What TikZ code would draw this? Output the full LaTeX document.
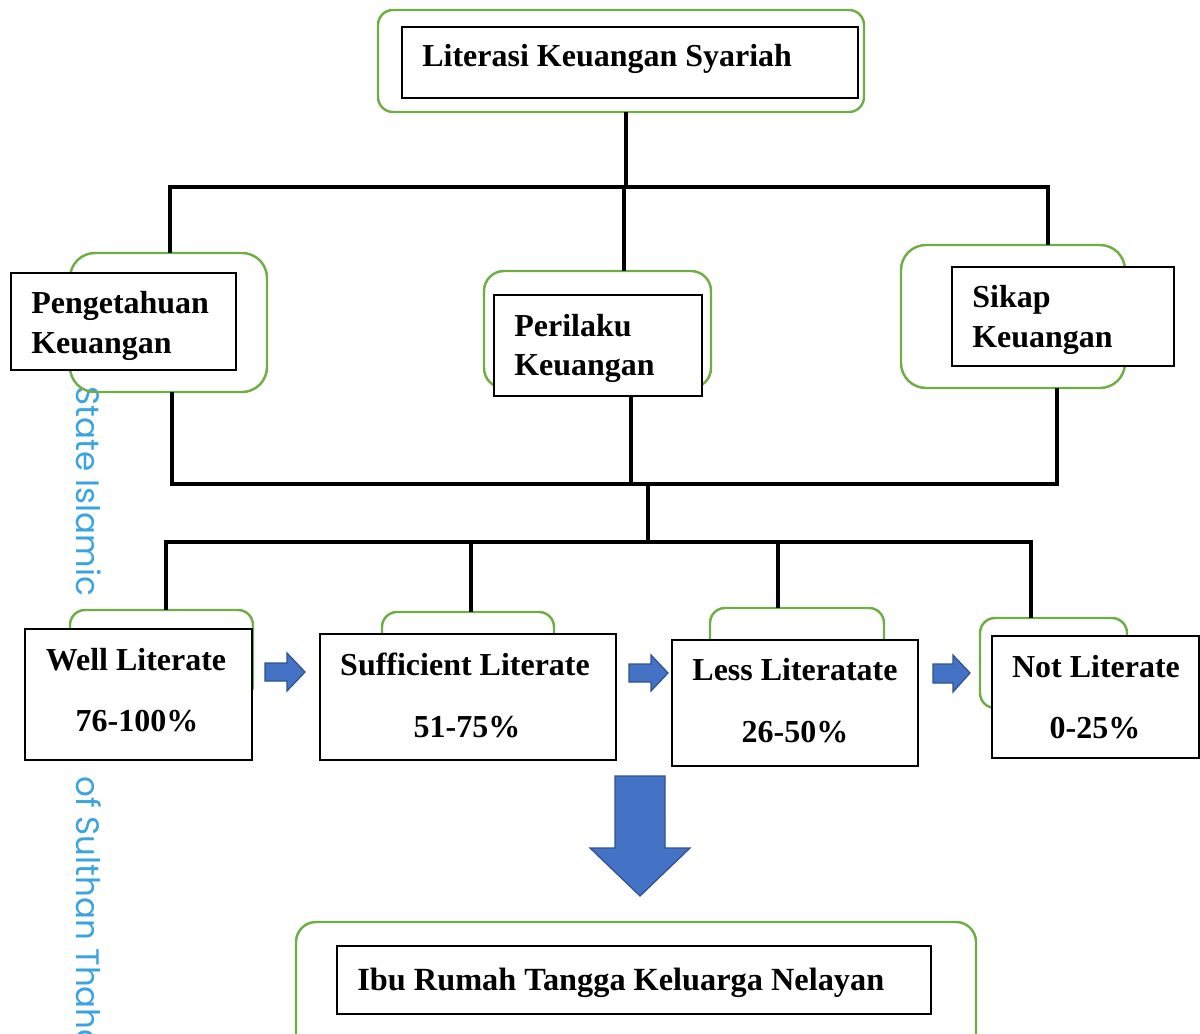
\documentclass[tikz,border=0pt]{standalone}
\usepackage{fontspec}
\setmainfont{Liberation Serif}
\newfontfamily\wmfont{Poppins}
\usetikzlibrary{fit}
\definecolor{grn}{HTML}{70AD47}
\definecolor{blu}{HTML}{4472C4}
\definecolor{bluedge}{HTML}{2F528F}
\definecolor{wmc}{HTML}{3BA3DF}
\begin{document}
\begin{tikzpicture}[x=0.02cm,y=-0.02cm,
  gbox/.style={draw=grn, line width=1.4pt, inner sep=0pt},
  bbox/.style={draw=black, line width=0.6pt, fill=white, inner sep=0pt},
  lbl/.style={font=\fontsize{18.2}{20}\selectfont\bfseries, inner sep=0pt},
  conn/.style={line width=1.9pt, black, line cap=rect},
  barrow/.style={fill=blu, draw=bluedge, line width=0.7pt},
  wmark/.style={text=wmc, font=\wmfont\fontsize{18.5}{20}\selectfont, inner sep=0pt, rotate=-90}]
\clip (0,0) rectangle (1200,1034);
% watermark
\node[wmark, anchor=base west] (wm1) at (76,386) {State Islamic};
\node[wmark, anchor=base west] (wm2) at (76,776) {of Sulthan Thaha};
% top
\node[gbox, rounded corners=0.3cm, fit={(378,10) (864,112)}] (topg) {};
\node[bbox, fit={(402,27) (858,98)}] (topb) {};
\node[lbl, anchor=base west] (topt) at (422,67) {Literasi Keuangan Syariah};
% Pengetahuan
\node[gbox, rounded corners=0.5cm, fit={(70,253) (267,392)}] (pg) {};
\node[bbox, fit={(11,273) (236,370)}] (pb) {};
\node[lbl, anchor=base west] (pt1) at (31,313) {Pengetahuan};
\node[lbl, anchor=base west] (pt2) at (31,353) {Keuangan};
% Perilaku
\node[gbox, rounded corners=0.4cm, fit={(484,271) (711,388)}] (rg) {};
\node[bbox, fit={(494,295) (702,396)}] (rb) {};
\node[lbl, anchor=base west] (rt1) at (514,336) {Perilaku};
\node[lbl, anchor=base west] (rt2) at (514,375) {Keuangan};
% Sikap
\node[gbox, rounded corners=0.5cm, fit={(901,245) (1125,388)}] (sg) {};
\node[bbox, fit={(952,267) (1174,366)}] (sb) {};
\node[lbl, anchor=base west] (st1) at (972,307) {Sikap};
\node[lbl, anchor=base west] (st2) at (972,347) {Keuangan};
% Well
\node[gbox, rounded corners=0.3cm, fit={(70,610) (253,700)}] (wg) {};
\node[bbox, fit={(25,629) (252,760)}] (wb) {};
\node[lbl, anchor=base] (wt1) at (136,670) {Well Literate};
\node[lbl, anchor=base] (wt2) at (137,731) {76-100\%};
% Sufficient
\node[gbox, rounded corners=0.3cm, fit={(382,612) (554,700)}] (fg) {};
\node[bbox, fit={(320,634) (616,760)}] (fb) {};
\node[lbl, anchor=base] (ft1) at (465,675) {Sufficient Literate};
\node[lbl, anchor=base] (ft2) at (467,737) {51-75\%};
% Less
\node[gbox, rounded corners=0.3cm, fit={(710,608) (884,700)}] (lg) {};
\node[bbox, fit={(672,640) (918,766)}] (lb) {};
\node[lbl, anchor=base] (lt1) at (795,680) {Less Literatate};
\node[lbl, anchor=base] (lt2) at (795,742) {26-50\%};
% Not
\node[gbox, rounded corners=0.3cm, fit={(980,618) (1127,708)}] (ng) {};
\node[bbox, fit={(992,636) (1199,758)}] (nb) {};
\node[lbl, anchor=base] (nt1) at (1096,677) {Not Literate};
\node[lbl, anchor=base] (nt2) at (1095,738) {0-25\%};
% bottom
\node[gbox, rounded corners=0.4cm, fit={(296,922) (976,1070)}] (bg) {};
\node[bbox, fit={(337,946) (931,1014)}] (bb) {};
\node[lbl, font=\fontsize{18.4}{20}\selectfont\bfseries, anchor=base west] (bt) at (357,990) {Ibu Rumah Tangga Keluarga Nelayan};
% blue arrows
\draw[barrow] (265,663) -- (287,663) -- (287,653) -- (305,672) -- (287,691) -- (287,681) -- (265,681) -- cycle;
\draw[barrow] (629,664) -- (651,664) -- (651,655) -- (668,673) -- (651,691) -- (651,682) -- (629,682) -- cycle;
\draw[barrow] (933,664) -- (953,664) -- (953,655) -- (970,673) -- (953,692) -- (953,683) -- (933,683) -- cycle;
\draw[barrow] (615,776) -- (665,776) -- (665,848) -- (690,848) -- (640,896) -- (590,848) -- (615,848) -- cycle;
% connectors
\coordinate (j1) at (626,187);
\coordinate (h1l) at (170,187);
\coordinate (h1m) at (624,187);
\coordinate (h1r) at (1048,187);
\draw[conn] (topg.south -| j1) -- (j1);
\draw[conn] (h1l) -- (h1r);
\draw[conn] (h1l) -- (h1l |- pg.north);
\draw[conn] (h1m) -- (h1m |- rg.north);
\draw[conn] (h1r) -- (h1r |- sg.north);
\coordinate (h2l) at (172,484);
\coordinate (h2m) at (631,484);
\coordinate (h2r) at (1057,484);
\coordinate (h2c) at (648,484);
\coordinate (h3c) at (648,542);
\coordinate (h3l) at (166,542);
\coordinate (h3a) at (471,542);
\coordinate (h3b) at (778,542);
\coordinate (h3r) at (1031,542);
\draw[conn] (pg.south -| h2l) -- (h2l);
\draw[conn] (rb.south -| h2m) -- (h2m);
\draw[conn] (sg.south -| h2r) -- (h2r);
\draw[conn] (h2l) -- (h2r);
\draw[conn] (h2c) -- (h3c);
\draw[conn] (h3l) -- (h3r);
\draw[conn] (h3l) -- (h3l |- wg.north);
\draw[conn] (h3a) -- (h3a |- fg.north);
\draw[conn] (h3b) -- (h3b |- lg.north);
\draw[conn] (h3r) -- (h3r |- ng.north);
\end{tikzpicture}
\end{document}
